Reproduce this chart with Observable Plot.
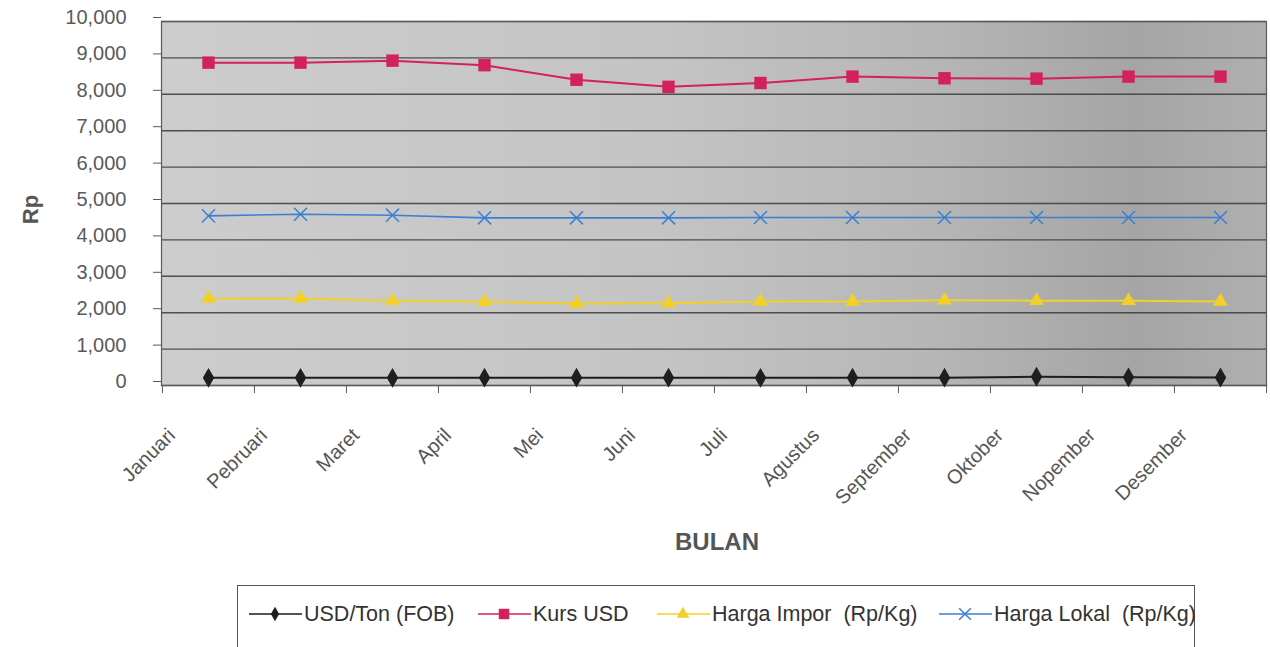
<!DOCTYPE html>
<html>
<head>
<meta charset="utf-8">
<script src="https://cdn.jsdelivr.net/npm/d3@7"></script>
<script src="https://cdn.jsdelivr.net/npm/@observablehq/plot@0.6"></script>
<style>
  html, body { margin: 0; padding: 0; background: #fff; }
  body { font-family: "Liberation Sans", Arial, sans-serif; }
  #wrap { position: relative; width: 1270px; height: 647px; overflow: hidden; }
  #legend { position: absolute; left: 237px; top: 585px; width: 958px; height: 80px;
            border: 1px solid #555; box-sizing: border-box; background: #fff; }
  .li { position: absolute; top: 13px; height: 30px; display: flex; align-items: center; }
  .li span { font-size: 21.5px; color: #333; white-space: pre; margin-left: 2px; }
</style>
</head>
<body>
<svg width="0" height="0" style="position:absolute">
  <defs>
    <linearGradient id="bg" x1="0" x2="1" y1="0" y2="0">
      <stop offset="0" stop-color="#cdcdcd"/>
      <stop offset="0.45" stop-color="#c4c4c4"/>
      <stop offset="0.7" stop-color="#b6b6b6"/>
      <stop offset="0.88" stop-color="#a5a5a5"/>
      <stop offset="1" stop-color="#afafaf"/>
    </linearGradient>
  </defs>
</svg>
<div id="wrap">
  <div id="chart"></div>
  <div id="legend"></div>
</div>
<script>
// ---- data ----
const bulan = ["Januari","Pebruari","Maret","April","Mei","Juni","Juli","Agustus","September","Oktober","Nopember","Desember"];
const usdTon = [210, 210, 210, 215, 215, 215, 210, 215, 215, 240, 225, 220];
const kursUsd = [8870, 8870, 8925, 8800, 8400, 8205, 8310, 8486, 8440, 8430, 8486, 8486];
const hargaImpor = [2390, 2390, 2330, 2300, 2250, 2260, 2310, 2310, 2340, 2330, 2330, 2310];
const hargaLokal = [4660, 4706, 4679, 4606, 4606, 4606, 4615, 4615, 4615, 4615, 4615, 4615];
const yTicks = [0,1000,2000,3000,4000,5000,6000,7000,8000,9000,10000];

const seriesNames = ["USD/Ton (FOB)", "Kurs USD", "Harga Impor  (Rp/Kg)", "Harga Lokal  (Rp/Kg)"];
const seriesColors = ["#231a1e", "#d2225b", "#f2d027", "#3c7fd0"];
const seriesSymbols = ["diamond", "square", "triangle", "times"];

const rows = bulan.map((b, i) => ({bulan: b, usd: usdTon[i], kurs: kursUsd[i], impor: hargaImpor[i], lokal: hargaLokal[i]}));

const W = 1270, H = 580, ml = 161, mr = 4, mt = 21, mb = H - 385;
const bw = (W - ml - mr) / bulan.length;
const font = "'Liberation Sans', Arial, sans-serif";

const plot = Plot.plot({
  width: W, height: H,
  marginLeft: ml, marginRight: mr, marginTop: mt, marginBottom: mb,
  style: {fontFamily: font, background: "transparent", overflow: "visible"},
  x: {type: "band", domain: bulan, padding: 0, axis: null},
  y: {domain: [0, 10000], axis: null},
  marks: [
    Plot.frame({fill: "url(#bg)", stroke: null}),
    Plot.gridY(yTicks, {stroke: "#3a3a3a", strokeOpacity: 0.85, strokeWidth: 1.4}),
    Plot.frame({stroke: "#5a5a5a", strokeWidth: 1.2}),
    Plot.axisY(yTicks, {anchor: "left", tickSize: 8, tickPadding: 27, tickFormat: d3.format(","),
      fontSize: 20, color: "#5a5a5a", dy: -4, label: null}),
    Plot.axisX(bulan, {anchor: "bottom", tickSize: 8, dx: -bw / 2, tickFormat: () => "", label: null, color: "#5a5a5a"}),
    Plot.axisX(["Desember"], {anchor: "bottom", tickSize: 8, dx: bw / 2, tickFormat: () => "", label: null, color: "#5a5a5a"}),
    Plot.text(bulan, {x: d => d, frameAnchor: "bottom", rotate: -45, textAnchor: "end",
      dx: -32, dy: 51, fontSize: 20, fill: "#555"}),
    Plot.text(["Rp"], {frameAnchor: "left", textAnchor: "middle", dx: -131, dy: 6, rotate: -90, fontSize: 22, fontWeight: "bold", fill: "#555"}),
    Plot.text(["BULAN"], {frameAnchor: "bottom", dx: 3, dy: 164, fontSize: 24, fontWeight: "bold", fill: "#555"}),

    Plot.line(rows, {x: "bulan", y: "lokal", stroke: seriesColors[3], strokeWidth: 1.6}),
    Plot.dot(rows, {x: "bulan", y: "lokal", symbol: "times", r: 6, stroke: seriesColors[3], strokeWidth: 1.5}),
    Plot.line(rows, {x: "bulan", y: "impor", stroke: seriesColors[2], strokeWidth: 2}),
    Plot.dot(rows, {x: "bulan", y: "impor", symbol: "triangle", r: 5.5, fill: seriesColors[2]}),
    Plot.line(rows, {x: "bulan", y: "usd", stroke: seriesColors[0], strokeWidth: 2}),
    Plot.dot(rows, {x: "bulan", y: "usd", symbol: "diamond", r: 6, fill: "#1e1e1e"}),
    Plot.line(rows, {x: "bulan", y: "kurs", stroke: seriesColors[1], strokeWidth: 2}),
    Plot.dot(rows, {x: "bulan", y: "kurs", symbol: "square", r: 7, fill: seriesColors[1]})
  ]
});
document.getElementById("chart").appendChild(plot);

// ---- legend ----
const legend = document.getElementById("legend");
const itemLeft = [10, 239, 418, 700];
const symbolMap = {diamond: d3.symbolDiamond, square: d3.symbolSquare, triangle: d3.symbolTriangle, times: d3.symbolTimes};
const symSize = {diamond: 60, square: 110, triangle: 70, times: 90};
seriesNames.forEach((name, i) => {
  const div = document.createElement("div");
  div.className = "li";
  div.style.left = itemLeft[i] + "px";
  const svg = d3.create("svg").attr("width", 54).attr("height", 20);
  svg.append("line").attr("x1", 1).attr("x2", 54).attr("y1", 10).attr("y2", 10)
    .attr("stroke", seriesColors[i]).attr("stroke-width", 1.6);
  const sym = seriesSymbols[i];
  const p = svg.append("path").attr("transform", "translate(27,10)")
    .attr("d", d3.symbol(symbolMap[sym], symSize[sym])());
  if (sym === "times") p.attr("fill", "none").attr("stroke", seriesColors[i]).attr("stroke-width", 1.5);
  else p.attr("fill", sym === "diamond" ? "#1e1e1e" : seriesColors[i]);
  div.appendChild(svg.node());
  const sp = document.createElement("span");
  sp.textContent = name;
  div.appendChild(sp);
  legend.appendChild(div);
});
</script>
</body>
</html>
